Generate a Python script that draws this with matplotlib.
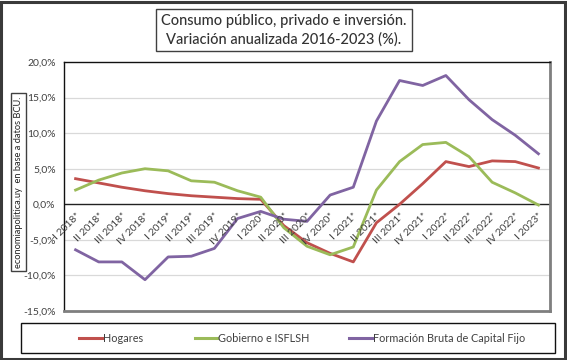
import matplotlib
matplotlib.use("Agg")
import matplotlib.pyplot as plt
from matplotlib.patches import Rectangle
from matplotlib.lines import Line2D
import matplotlib.transforms as mtransforms

plt.rcParams['font.family'] = ['Lato', 'DejaVu Sans']

categories = ["I 2018*", "II 2018*", "III 2018*", "IV 2018*",
              "I 2019*", "II 2019*", "III 2019*", "IV 2019*",
              "I 2020*", "II 2020*", "III 2020*", "IV 2020*",
              "I 2021*", "II 2021*", "III 2021*", "IV 2021*",
              "I 2022*", "II 2022*", "III 2022*", "IV 2022*", "I 2023*"]

hogares = [3.6, 3.0, 2.4, 1.9, 1.5, 1.2, 1.0, 0.8, 0.7,
           -3.0, -5.4, -6.9, -8.1, -2.6, 0.0, 2.9,
           6.0, 5.3, 6.1, 6.0, 5.1]
gobierno = [2.0, 3.4, 4.4, 5.0, 4.7, 3.3, 3.1, 1.9, 1.0,
            -3.3, -5.9, -7.1, -6.0, 2.0, 6.0, 8.4,
            8.7, 6.7, 3.1, 1.6, -0.1]
fbcf = [-6.4, -8.1, -8.1, -10.6, -7.4, -7.3, -6.2, -2.0, -1.0,
        -2.1, -2.4, 1.3, 2.4, 11.7, 17.4, 16.7,
        18.1, 14.7, 11.9, 9.7, 7.1]

series_names = ["Hogares", "Gobierno e ISFLSH", "Formación Bruta de Capital Fijo"]
colors = ["#C0504D", "#9BBB59", "#8064A2"]

yticks = [20, 15, 10, 5, 0, -5, -10, -15]
ytick_labels = ["20,0%", "15,0%", "10,0%", "5,0%", "0,0%", "-5,0%", "-10,0%", "-15,0%"]

W, H = 567, 360
fig = plt.figure(figsize=(W / 100, H / 100), dpi=100)

def fx(px):
    return px / W

def fy(py):
    return 1 - py / H

# Outer border
fig.patches.append(Rectangle((0.002, 0.003), 0.994, 0.992, transform=fig.transFigure,
                             fill=False, edgecolor="#3a3a3a", linewidth=2.2))

left, right, top, bottom = 64, 550, 62, 311
ax = fig.add_axes([fx(left), fy(bottom), fx(right) - fx(left), fy(top) - fy(bottom)])

x = list(range(len(categories)))
for vals, c in zip([hogares, gobierno, fbcf], colors):
    ax.plot(x, vals, color=c, linewidth=2.0, solid_joinstyle='round', zorder=3)

ax.set_xlim(-0.5, len(categories) - 0.5)
ax.set_ylim(-15, 20)
ax.set_yticks(yticks)
ax.set_yticklabels(ytick_labels, fontsize=7.5, color="#404040")
ax.tick_params(axis='y', length=0, pad=6)
ax.set_xticks([])
for yv in yticks:
    if yv not in (0, -15, 20):
        ax.axhline(yv, color="#d9d9d9", linewidth=0.9, zorder=1)
ax.axhline(0, color="#222222", linewidth=1.0, zorder=2)

for s in ['left', 'top']:
    ax.spines[s].set_color("#111111")
    ax.spines[s].set_linewidth(1.0)
for s in ['right', 'bottom']:
    ax.spines[s].set_color("#7f7f7f")
    ax.spines[s].set_linewidth(2.0)

# x category labels, rotated, hanging under the zero line
offset = mtransforms.ScaledTranslation(0, -7 / 100, fig.dpi_scale_trans)
for i, lab in enumerate(categories):
    ax.text(i, 0, lab, rotation=45, ha='right', va='top', rotation_mode='anchor',
            fontsize=7.5, color="#404040", transform=ax.transData + offset,
            zorder=4)

# Title box
fig.text(fx(284), fy(30),
         "Consumo público, privado e inversión.\nVariación anualizada 2016-2023 (%).",
         ha='center', va='center', fontsize=10.5, color="#333333",
         fontweight='medium', linespacing=1.35,
         bbox=dict(boxstyle='square,pad=0.35', facecolor='white',
                   edgecolor='#404040', linewidth=1.0))

# Vertical source label box
fig.text(fx(18.5), fy(182), "economiapolitica.uy  en base a datos BCU.",
         rotation=90, ha='center', va='center', fontsize=6.7, color="#222222",
         bbox=dict(boxstyle='square,pad=0.35', facecolor='white',
                   edgecolor='#404040', linewidth=1.0))

# Legend box
fig.patches.append(Rectangle((fx(21), fy(353)), fx(555) - fx(21), fy(323) - fy(353),
                             transform=fig.transFigure, fill=False,
                             edgecolor="#111111", linewidth=1.0))
legend_pos = [(79, 102), (195, 217), (349, 372)]
for (x0, x1), name, c in zip(legend_pos, series_names, colors):
    fig.lines.append(Line2D([fx(x0), fx(x1)], [fy(338), fy(338)], color=c,
                            linewidth=2.2, transform=fig.transFigure))
    fig.text(fx(x1 + 1), fy(338), name, ha='left', va='center',
             fontsize=7.8, color="#404040")

fig.savefig("out.png", dpi=100)
